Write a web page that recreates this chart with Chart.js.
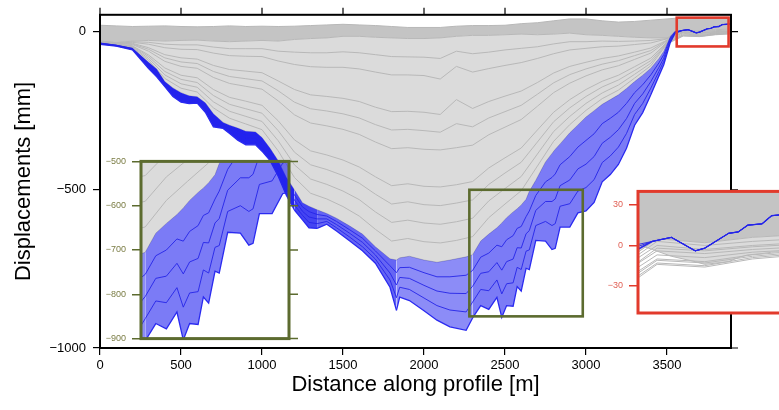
<!DOCTYPE html>
<html>
<head>
<meta charset="utf-8">
<script src="https://cdn.jsdelivr.net/npm/chart.js@4.4.1/dist/chart.umd.min.js"></script>
<style>
html,body{margin:0;padding:0;overflow:hidden;background:#fff;}
#wrap{position:relative;width:779px;height:410px;overflow:hidden;}
canvas{position:absolute;display:block;}
</style>
</head>
<body>
<div id="wrap">
<canvas id="main" width="779" height="410" style="left:0;top:0;width:779px;height:410px"></canvas>
<canvas id="insetL" width="205" height="200" style="left:100px;top:150px;width:205px;height:200px"></canvas>
<canvas id="insetR" width="215" height="145" style="left:590px;top:180px;width:215px;height:145px"></canvas>
</div>
<script>
// ---------------- DATA ----------------
// distance along profile [m] for the deepest (latest) profiles
const distFine = [0,100,200,300,350,400,450,500,550,600,650,700,760,800,850,900,960,1000,1050,1100,1150,1200,1250,1290,1340,1400,1460,1540,1620,1700,1790,1830,1850,1910,2000,2080,2160,2260,2300,2350,2400,2450,2480,2510,2550,2575,2600,2630,2650,2690,2750,2790,2810,2840,2900,2950,3000,3050,3100,3150,3200,3250,3300,3350,3400,3450,3480,3520,3550,3590,3630,3680,3700,3750,3770,3790,3820,3840,3900];
// last (deepest) blue profile [mm]
const envelope = [-40,-46,-58,-117,-143,-174,-205,-223,-228,-226,-255,-301,-306,-322,-343,-358,-358,-378,-408,-457,-517,-564,-595,-620,-622,-609,-630,-661,-693,-732,-808,-881,-839,-850,-882,-912,-933,-944,-905,-866,-878,-840,-903,-866,-868,-806,-820,-748,-752,-660,-662,-689,-685,-618,-618,-573,-567,-540,-475,-452,-420,-369,-296,-256,-200,-140,-105,-35,-5,3,6,-4,-2,9,10,15,16,22,24];
// intermediate blue profiles [mm]
const blue2 = [-36,-43,-53,-102,-124,-162,-185,-200,-209,-211,-232,-270,-292,-302,-314,-326,-327,-346,-379,-420,-474,-516,-554,-569,-578,-583,-600,-626,-653,-693,-740,-762,-746,-745,-762,-775,-775,-770,-755,-713,-700,-675,-680,-658,-645,-622,-616,-585,-567,-518,-475,-461,-450,-421,-395,-365,-344,-323,-291,-274,-255,-227,-193,-168,-137,-99,-73,-20,0,3,6,-4,-2,9,10,15,16,22,24];
const blue3 = [-37,-44,-55,-107,-130,-166,-191,-208,-215,-216,-240,-280,-296,-309,-324,-336,-337,-356,-388,-432,-488,-532,-568,-586,-592,-592,-610,-637,-666,-706,-763,-801,-777,-780,-802,-820,-827,-828,-805,-764,-759,-730,-754,-727,-719,-683,-684,-639,-629,-565,-537,-537,-529,-487,-469,-434,-419,-395,-353,-334,-310,-275,-227,-197,-158,-113,-84,-25,-2,3,6,-4,-2,9,10,15,16,22,24];
const blue4 = [-39,-45,-56,-112,-137,-170,-198,-215,-222,-221,-247,-291,-301,-315,-333,-347,-348,-367,-398,-445,-503,-548,-581,-603,-607,-600,-620,-649,-680,-719,-785,-841,-808,-815,-842,-866,-880,-886,-855,-815,-819,-785,-829,-797,-794,-745,-752,-694,-690,-613,-600,-613,-607,-552,-544,-504,-493,-468,-414,-393,-365,-322,-262,-227,-179,-126,-94,-30,-4,3,6,-4,-2,9,10,15,16,22,24];
// last gray profile [mm]
const grayBottom = [-35,-42,-52,-97,-118,-158,-178,-193,-203,-206,-225,-260,-287,-296,-305,-315,-317,-335,-369,-408,-460,-500,-541,-552,-563,-575,-590,-614,-640,-680,-718,-722,-715,-710,-722,-729,-722,-712,-705,-662,-640,-620,-605,-588,-570,-560,-548,-530,-505,-470,-412,-385,-372,-355,-320,-295,-270,-250,-230,-215,-200,-180,-158,-138,-116,-85,-62,-15,2,-3,-8,-12,-14,-12,-9,-7,-6,-5,-4];

// distance along profile [m] for the earlier (gray) profiles
const distCoarse = [0,100,200,300,400,500,600,700,800,900,1000,1100,1200,1300,1400,1500,1600,1700,1800,1900,2000,2100,2200,2300,2400,2500,2600,2700,2800,2900,3000,3100,3200,3300,3400,3500,3600,3700,3800,3900];
const grayTop = [20,18,16,17,18,16,15,16,18,16,17,16,17,19,21,23,21,19,16,13,13,13,17,19,19,20,25,28,34,40,40,34,30,32,36,40,44,42,44,42];
const gray1 = [-30,-35,-30,-28,-30,-28,-27,-30,-32,-30,-28,-30,-25,-22,-20,-15,-15,-18,-20,-22,-22,-20,-15,-12,-12,-10,-8,-10,-8,-5,-10,-12,-15,-18,-20,-20,5,2,6,8];
const gray1b = [-30,-35,-32,-34,-40,-42,-42,-49,-54,-54,-54,-62,-65,-67,-67,-64,-67,-73,-79,-80,-81,-85,-62,-70,-65,-58,-53,-48,-39,-32,-32,-30,-31,-30,-28,-22,3,0,3,5];
const gray2 = [-31,-36,-34,-40,-51,-56,-57,-68,-76,-78,-79,-93,-104,-111,-113,-113,-118,-128,-137,-137,-139,-150,-110,-128,-117,-107,-98,-85,-70,-58,-53,-48,-46,-41,-36,-23,0,-3,0,2];
const gray3 = [-32,-37,-37,-51,-73,-83,-87,-107,-120,-125,-130,-156,-183,-200,-205,-211,-221,-239,-253,-252,-255,-262,-215,-243,-221,-204,-188,-161,-131,-110,-97,-85,-77,-65,-52,-27,-4,-6,-3,-1];
const gray3b = [-32,-37,-39,-56,-83,-96,-101,-126,-142,-149,-156,-187,-223,-244,-251,-260,-273,-294,-311,-309,-313,-318,-291,-301,-273,-253,-233,-198,-162,-136,-118,-103,-92,-76,-60,-28,-2,-4,-1,1];
const gray4 = [-32,-38,-41,-62,-94,-110,-116,-145,-164,-173,-182,-219,-263,-289,-298,-309,-325,-349,-370,-367,-372,-374,-367,-359,-326,-302,-278,-236,-193,-163,-140,-121,-108,-88,-68,-30,-7,-9,-5,-3];
const gray5 = [-33,-40,-45,-74,-115,-138,-146,-183,-208,-220,-233,-282,-342,-377,-390,-406,-428,-459,-487,-481,-489,-491,-484,-474,-431,-399,-368,-311,-255,-215,-183,-157,-138,-111,-84,-33,-10,-12,-7,-4];
const gray5b = [-33,-40,-46,-79,-126,-151,-161,-202,-230,-244,-258,-313,-381,-421,-436,-455,-479,-514,-545,-538,-547,-550,-542,-532,-483,-447,-413,-349,-285,-241,-205,-175,-153,-123,-92,-35,-11,-13,-8,-5];
const gray6 = [-34,-41,-48,-85,-137,-165,-176,-222,-252,-268,-284,-345,-421,-466,-483,-504,-531,-570,-603,-596,-605,-609,-601,-590,-535,-496,-458,-387,-316,-268,-227,-194,-169,-135,-100,-37,-13,-15,-9,-6];
const gray6b = [-35,-42,-50,-91,-148,-179,-191,-241,-274,-292,-310,-377,-461,-511,-529,-553,-583,-625,-662,-654,-664,-668,-660,-648,-588,-545,-503,-425,-347,-294,-249,-212,-185,-147,-108,-39,-14,-16,-10,-7];

// tick labels
const xTicks = [0,500,1000,1500,2000,2500,3000,3500];
const yTicks = [-1000,-500,0];
const insetLTicks = [-900,-800,-700,-600,-500];
const insetRTicks = [-30,0,30];
// zoom windows (data coordinates)
const greenWindow = {x0:2280, x1:2980, y0:-900, y1:-500};
const redWindow = {x0:3560, x1:3880, y0:-47, y1:44};
const redInsetX = [3560, 3910];
const redInsetY = [-50, 40];

// ---------------- STYLE ----------------
Chart.defaults.font.family = "'Liberation Sans', Arial, Helvetica, sans-serif";
const BLUE_LINE = 'rgba(38,38,232,0.9)';
const BLUE_ENV = '#2a2af0';
const GRAY_LINE = '#b8b8b8';
const GRAY_FILL = '#dbdbdb';
const GRAY_DARK = '#c4c4c4';
const OLIVE = '#5c6b2f';
const OLIVE_TXT = '#7b7d45';
const RED = '#e23a2c';
const RED_TXT = '#e06055';
// fill opacity of the blue band by distance range (style)
const blueBands = [[1180,1],[1320,0.85],[1800,0.7],[2300,0.52],[3540,0.6],[99999,0]];
function blueFill(x){
  for (const b of blueBands){ if (x < b[0]) return 'rgba(35,35,240,' + b[1] + ')'; }
  return 'rgba(0,0,0,0)';
}

function fmt(v){ return v < 0 ? '\u2212' + Math.abs(v) : String(v); }
function pts(xs, ys){ return xs.map((x,i)=>({x:x, y:ys[i]})); }
function buildDatasets(){
  const ln = (data, color, w, extra) => Object.assign({data:data, borderColor:color, borderWidth:w, pointRadius:0, fill:false, tension:0, backgroundColor:'rgba(0,0,0,0)'}, extra||{});
  const grays = [gray6b, gray6, gray5b, gray5, gray4, gray3b, gray3, gray2, gray1b].map(a => ln(pts(distCoarse, a), GRAY_LINE, 1));
  const ds = [
    ln(pts(distFine, blue4), BLUE_LINE, 1),
    ln(pts(distFine, blue3), BLUE_LINE, 1),
    ln(pts(distFine, blue2), BLUE_LINE, 1),
    ln(pts(distFine, envelope), BLUE_ENV, 1.3, {fill:4, backgroundColor:'rgba(35,35,240,0.6)',
        segment:{backgroundColor: c => blueFill(c.p0.parsed.x)}}),
    ln(pts(distFine, grayBottom), GRAY_LINE, 1)
  ].concat(grays);
  const g1Index = ds.length;
  ds.push(ln(pts(distCoarse, gray1), GRAY_LINE, 1, {fill:4, backgroundColor:GRAY_FILL}));
  ds.push(ln(pts(distCoarse, grayTop), GRAY_LINE, 1, {fill:g1Index, backgroundColor:GRAY_DARK}));
  return ds;
}
const baseOpts = {responsive:false, animation:false, events:[], plugins:{legend:{display:false}, tooltip:{enabled:false}}};

// ---------------- MAIN CHART ----------------
const mainCanvas = document.getElementById('main');
const mainDeco = {
  id:'mainDeco',
  afterDatasetsDraw(chart){
    const {ctx} = chart; const xs = chart.scales.x, ys = chart.scales.y;
    const box = (w, c) => { ctx.save(); ctx.strokeStyle = c; ctx.lineWidth = 2.6;
      ctx.strokeRect(xs.getPixelForValue(w.x0), ys.getPixelForValue(w.y1), xs.getPixelForValue(w.x1)-xs.getPixelForValue(w.x0), ys.getPixelForValue(w.y0)-ys.getPixelForValue(w.y1)); ctx.restore(); };
    box(greenWindow, OLIVE);
    box(redWindow, RED);
  },
  afterDraw(chart){
    const {ctx, chartArea:a} = chart; const xs = chart.scales.x, ys = chart.scales.y;
    ctx.save(); ctx.strokeStyle = '#000'; ctx.lineWidth = 2;
    ctx.strokeRect(a.left, a.top, a.right-a.left, a.bottom-a.top);
    ctx.lineWidth = 1.2; ctx.beginPath();
    xTicks.forEach(v => { const p = xs.getPixelForValue(v); ctx.moveTo(p, a.top); ctx.lineTo(p, a.top-7); });
    yTicks.forEach(v => { const p = ys.getPixelForValue(v); ctx.moveTo(a.right, p); ctx.lineTo(a.right+7, p); });
    ctx.stroke(); ctx.restore();
  }
};
new Chart(mainCanvas, {
  type:'line',
  data:{datasets: buildDatasets()},
  options: Object.assign({}, baseOpts, {
    layout:{padding:{left:0, top:12, right:48, bottom:0}},
    scales:{
      x:{type:'linear', position:'bottom', min:0, max:3895,
        afterBuildTicks: s => { s.ticks = xTicks.map(v => ({value:v})); },
        afterFit: s => { s.height = 62; },
        grid:{display:true, drawOnChartArea:false, drawTicks:true, tickLength:7, color:'#000', lineWidth:1.2},
        border:{display:false},
        ticks:{color:'#000', font:{size:13}, padding:3, maxRotation:0, autoSkip:false, callback: v => fmt(v)},
        title:{display:true, text:'Distance along profile [m]', color:'#000', font:{size:22}, padding:{top:0, bottom:12}}
      },
      y:{type:'linear', position:'left', min:-1000, max:53,
        afterBuildTicks: s => { s.ticks = yTicks.map(v => ({value:v})); },
        afterFit: s => { s.width = 100; },
        grid:{display:true, drawOnChartArea:false, drawTicks:true, tickLength:7, color:'#000', lineWidth:1.2},
        border:{display:false},
        ticks:{color:'#000', font:{size:13}, padding:7, autoSkip:false, callback: v => fmt(v)},
        title:{display:true, text:'Displacements [mm]', color:'#000', font:{size:22}, padding:{top:11, bottom:0}}
      }
    }
  }),
  plugins:[mainDeco]
});

// ---------------- INSETS ----------------
function insetDeco(color, rightTicks, ticks, whiteBg){
  return {
    id:'insetDeco',
    beforeDatasetsDraw(chart){
      if (!whiteBg) return;
      const {ctx, chartArea:a} = chart; ctx.save(); ctx.fillStyle = '#fff';
      ctx.fillRect(a.left, a.top, a.right-a.left, a.bottom-a.top); ctx.restore();
    },
    afterDraw(chart){
      const {ctx, chartArea:a} = chart; const ys = chart.scales.y;
      ctx.save(); ctx.strokeStyle = color; ctx.lineWidth = 3;
      ctx.strokeRect(a.left, a.top, a.right-a.left, a.bottom-a.top);
      if (rightTicks){ ctx.lineWidth = 1.5; ctx.beginPath();
        ticks.forEach(v => { const p = ys.getPixelForValue(v); ctx.moveTo(a.right, p); ctx.lineTo(a.right+9, p); });
        ctx.stroke(); }
      ctx.restore();
    }
  };
}
function insetOptions(xw, yw, ticks, yWidth, pad, color, txtColor){
  return Object.assign({}, baseOpts, {
    layout:{padding:pad},
    scales:{
      x:{type:'linear', min:xw[0], max:xw[1], display:false},
      y:{type:'linear', position:'left', min:yw[0], max:yw[1],
        afterBuildTicks: s => { s.ticks = ticks.map(v => ({value:v})); },
        afterFit: s => { s.width = yWidth; },
        grid:{display:true, drawOnChartArea:false, drawTicks:true, tickLength:9, color:color, lineWidth:1.5},
        border:{display:false},
        ticks:{color:txtColor, font:{size:9}, padding:6, autoSkip:false, callback: v => fmt(v)}
      }
    }
  });
}
new Chart(document.getElementById('insetL'), {
  type:'line',
  data:{datasets: buildDatasets()},
  options: insetOptions([greenWindow.x0, greenWindow.x1], [greenWindow.y0, greenWindow.y1], insetLTicks, 41, {left:0, top:11, right:16, bottom:11}, OLIVE, OLIVE_TXT),
  plugins:[insetDeco(OLIVE, true, insetLTicks, false)]
});
new Chart(document.getElementById('insetR'), {
  type:'line',
  data:{datasets: buildDatasets()},
  options: insetOptions(redInsetX, redInsetY, insetRTicks, 48, {left:0, top:9, right:0, bottom:12}, RED, RED_TXT),
  plugins:[insetDeco(RED, false, insetRTicks, true)]
});
</script>
</body>
</html>
